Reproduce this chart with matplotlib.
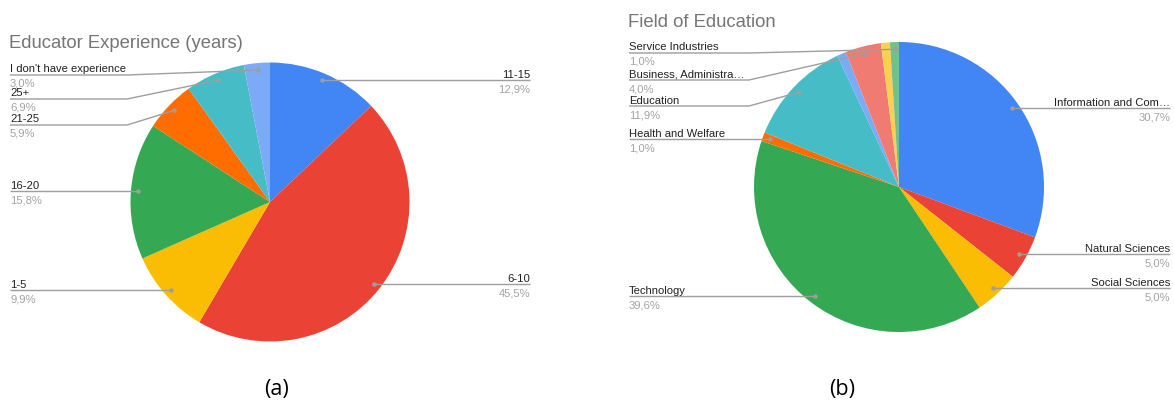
import numpy as np
import matplotlib.pyplot as plt

# figure is laid out in pixel units (x from left, y from top)
W, H = 1174, 406

# educator experience (years)
exp_labels = ["11-15", "6-10", "1-5", "16-20", "21-25", "25+", "I don't have experience"]
exp_values = [12.9, 45.5, 9.9, 15.8, 5.9, 6.9, 3.0]

# field of education (two small slices carry no label)
field_labels = ["Information and Com\u2026", "Natural Sciences", "Social Sciences", "Technology",
                "Health and Welfare", "Education", "", "Business, Administra\u2026", "",
                "Service Industries"]
field_values = [30.7, 5.0, 5.0, 39.6, 1.0, 11.9, 1.0, 4.0, 1.0, 1.0]

colors = ["#4285F4", "#EA4335", "#FBBC04", "#34A853", "#FF6D01", "#46BDC6",
          "#7BAAF7", "#F07B72", "#FCD04F", "#71C287"]

# label placement: (side, line y or None to follow the dot)
exp_layout = [("R", None), ("R", None), ("L", None), ("L", None),
              ("L", 126), ("L", 100), ("L", 76)]
field_layout = [("R", None), ("R", None), ("R", None), ("L", None), ("L", None),
                ("L", 107), None, ("L", 81), None, ("L", 54)]

NAME_C = "#212121"
PCT_C = "#a3a3a3"
LINE_C = "#9e9e9e"
FONT = "Liberation Sans"

fig = plt.figure(figsize=(W / 100, H / 100), dpi=100)
ax = fig.add_axes([0, 0, 1, 1])


def fy(y):
    return H - y


def pct_text(v):
    return f"{v:.1f}%".replace(".", ",")


def draw_pie(values, labels, layout, center, radius, x_left, x_bend, x_right, title, title_xy):
    cx, cy = center
    wedges, _ = ax.pie(values, colors=colors[:len(values)], startangle=90, counterclock=False,
                       center=(cx, fy(cy)), radius=radius, wedgeprops=dict(linewidth=0))
    for w, lab, v, lay in zip(wedges, labels, values, layout):
        if lay is None or lab == "":
            continue
        side, ly = lay
        mid = np.deg2rad((w.theta1 + w.theta2) / 2)
        dx = cx + 0.95 * radius * np.cos(mid)
        dy = fy(cy) + 0.95 * radius * np.sin(mid)
        line_y = fy(ly) if ly is not None else dy
        if side == "L":
            xs = [x_left, x_bend, dx]
            tx, ha = x_left, "left"
        else:
            xs = [x_right, x_right, dx]
            tx, ha = x_right, "right"
        ax.plot(xs, [line_y, line_y, dy], color=LINE_C, lw=1.0, solid_capstyle="butt", zorder=3)
        ax.plot(dx, dy, "o", ms=3.2, color=LINE_C, mec="none", zorder=4)
        ax.text(tx, line_y + 3.5, lab, ha=ha, va="baseline", fontsize=8.1,
                color=NAME_C, family=FONT)
        ax.text(tx, line_y - 11, pct_text(v), ha=ha, va="baseline", fontsize=8.1,
                color=PCT_C, family=FONT)
    ax.text(title_xy[0], fy(title_xy[1]), title, ha="left", va="baseline",
            fontsize=13.3, color="#757575", family=FONT)


draw_pie(exp_values, exp_labels, exp_layout, (270, 203), 139.5, 10, 127, 530,
         "Educator Experience (years)", (9, 48))
draw_pie(field_values, field_labels, field_layout, (899, 188), 145, 629, 749, 1170,
         "Field of Education", (628, 27))

ax.text(276, fy(390), "(a)", ha="center", va="center", fontsize=15.5, color="black",
        family="Open Sans")
ax.text(842, fy(390), "(b)", ha="center", va="center", fontsize=15.5, color="black",
        family="Open Sans")

ax.set_xlim(0, W)
ax.set_ylim(0, H)
ax.set_aspect("equal")
ax.axis("off")

fig.savefig("out.png", dpi=100)
